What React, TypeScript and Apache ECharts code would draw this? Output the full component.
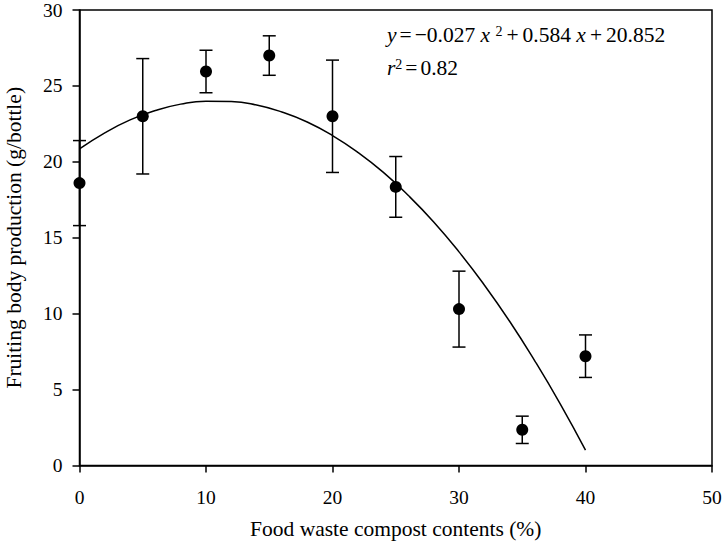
import React, { useEffect, useRef } from "react";
import * as echarts from "echarts";

const compost = [0, 5, 10, 15, 20, 25, 30, 35, 40];
const production = [18.6, 23.0, 25.95, 27.0, 23.0, 18.35, 10.3, 2.35, 7.2];
const errors = [2.8, 3.8, 1.4, 1.3, 3.7, 2.0, 2.5, 0.9, 1.4];

// fitted curve
const fitX = [0, 2, 4, 6, 8, 10, 12, 14, 16, 18, 20, 22, 24, 26, 28, 30, 32, 34, 36, 38, 40];
const fitY = [20.85, 21.91, 22.76, 23.38, 23.8, 23.99, 23.97, 23.74, 23.28, 22.62, 21.73, 20.63, 19.32, 17.78, 16.04, 14.07, 11.89, 9.5, 6.88, 4.06, 1.01];

const xTicks = [0, 10, 20, 30, 40, 50];
const yTicks = [0, 5, 10, 15, 20, 25, 30];

const FONT = "'Liberation Serif', 'Times New Roman', serif";

export default function App() {
  const ref = useRef<HTMLDivElement>(null);
  useEffect(() => {
    if (!ref.current) return;
    const chart = echarts.init(ref.current, null, { renderer: "svg" });
    const errData = compost.map((x, i) => [x, production[i] - errors[i], production[i] + errors[i]]);
    const rich = {
      i: { fontFamily: FONT, fontSize: 21.5, fontStyle: "italic", color: "#000" },
      s: { fontFamily: FONT, fontSize: 14, verticalAlign: "top", color: "#000" },
      eq: { fontFamily: FONT, fontSize: 21.5, color: "#000", padding: [0, 3] },
      op: { fontFamily: FONT, fontSize: 21.5, color: "#000", padding: [0, 4] },
    };
    chart.setOption({
      animation: false,
      backgroundColor: "#fff",
      textStyle: { fontFamily: FONT },
      grid: {
        left: 79.5,
        right: 14,
        top: 10,
        bottom: 77.5,
        containLabel: false,
        outerBoundsMode: "none",
        show: true,
        borderColor: "#000",
        borderWidth: 1.5,
        backgroundColor: "transparent",
      },
      xAxis: {
        type: "value",
        min: xTicks[0],
        max: xTicks[xTicks.length - 1],
        interval: 10,
        name: "Food waste compost contents (%)",
        nameLocation: "middle",
        nameGap: 52,
        nameTextStyle: { fontFamily: FONT, fontSize: 21.5, color: "#000" },
        axisLine: { show: true, onZero: false, lineStyle: { color: "#000", width: 1.5 } },
        axisTick: { show: true, inside: false, length: 7, lineStyle: { color: "#000", width: 1.5 } },
        axisLabel: { fontFamily: FONT, fontSize: 19.5, color: "#000", margin: 22 },
        splitLine: { show: false },
      },
      yAxis: {
        type: "value",
        min: yTicks[0],
        max: yTicks[yTicks.length - 1],
        interval: 5,
        name: "Fruiting body production (g/bottle)",
        nameLocation: "middle",
        nameGap: 55,
        nameTextStyle: { fontFamily: FONT, fontSize: 21.5, color: "#000" },
        axisLine: { show: true, onZero: false, lineStyle: { color: "#000", width: 1.5 } },
        axisTick: { show: true, inside: false, length: 7, lineStyle: { color: "#000", width: 1.5 } },
        axisLabel: { fontFamily: FONT, fontSize: 19.5, color: "#000", margin: 17 },
        splitLine: { show: false },
      },
      series: [
        {
          type: "line",
          data: fitX.map((x, i) => [x, fitY[i]]),
          smooth: true,
          showSymbol: false,
          symbol: "none",
          lineStyle: { color: "#000", width: 1.5 },
          z: 2,
        },
        {
          type: "custom",
          data: errData,
          z: 3,
          renderItem: (params: any, api: any) => {
            const x = api.value(0);
            const lo = api.coord([x, api.value(1)]);
            const hi = api.coord([x, api.value(2)]);
            const half = 6.5;
            const style = { stroke: "#000", lineWidth: 1.5 };
            return {
              type: "group",
              children: [
                { type: "line", shape: { x1: hi[0], y1: hi[1], x2: lo[0], y2: lo[1] }, style },
                { type: "line", shape: { x1: hi[0] - half, y1: hi[1], x2: hi[0] + half, y2: hi[1] }, style },
                { type: "line", shape: { x1: lo[0] - half, y1: lo[1], x2: lo[0] + half, y2: lo[1] }, style },
              ],
            };
          },
        },
        {
          type: "scatter",
          data: compost.map((x, i) => [x, production[i]]),
          symbol: "circle",
          symbolSize: 12,
          itemStyle: { color: "#000", opacity: 1 },
          z: 4,
        },
      ],
      graphic: [
        {
          type: "text",
          left: 387,
          top: 24,
          style: {
            text: "{i|y}{eq|=}−0.027 {i|x} {s|2}{op|+}0.584 {i|x}{op|+}20.852",
            fontFamily: FONT,
            fontSize: 21.5,
            fill: "#000",
            rich,
          },
        },
        {
          type: "text",
          left: 387,
          top: 57,
          style: {
            text: "{i|r}{s|2}{eq|=}0.82",
            fontFamily: FONT,
            fontSize: 21.5,
            fill: "#000",
            rich,
          },
        },
      ],
    });
    return () => chart.dispose();
  }, []);
  return <div ref={ref} style={{ width: 726, height: 543, position: "absolute", left: 0, top: 0 }} />;
}
